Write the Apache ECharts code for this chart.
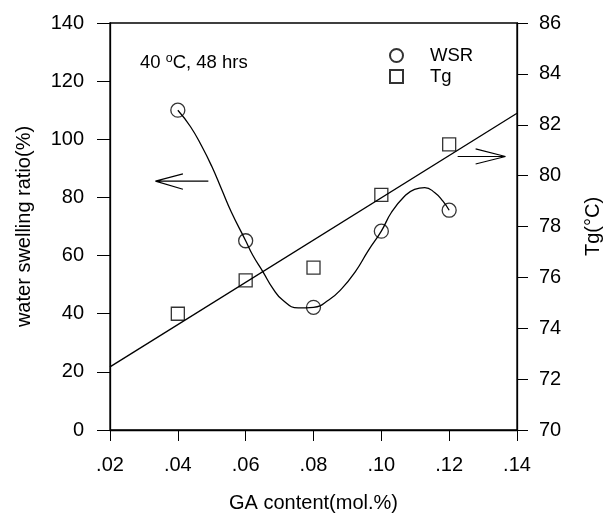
<!DOCTYPE html>
<html>
<head>
<meta charset="utf-8">
<script src="https://cdn.jsdelivr.net/npm/echarts@6/dist/echarts.min.js"></script>
<style>
  html, body { margin: 0; padding: 0; background: #fff; }
  #chart { width: 611px; height: 518px; }
</style>
</head>
<body>
<div id="chart"></div>
<script>
// values
const gaContent = [0.04, 0.06, 0.08, 0.10, 0.12];
const wsr = [110, 65.1, 42.2, 68.4, 75.6];
const tg = [74.57, 75.88, 76.38, 79.24, 81.23];
// hand-drawn smooth curve through WSR points (traced)
const wsrCurve = [
  [0.04, 110], [0.0437, 104.4], [0.0471, 97.5], [0.05, 90.7], [0.0529, 82.8],
  [0.0558, 74.9], [0.06, 65.1], [0.0621, 60.1], [0.0651, 54.4], [0.068, 48.7],
  [0.0709, 44.7], [0.0755, 42.0], [0.08, 42.2], [0.0845, 44.7],
  [0.0884, 48.7], [0.0923, 54.4], [0.0962, 61.8], [0.1, 68.4], [0.103, 74.9],
  [0.1069, 80.5], [0.1098, 82.8], [0.1128, 83.4], [0.1157, 81.7], [0.1181, 78.8],
  [0.12, 75.6]
];
// linear fit of Tg
const tgFit = [[0.02, 72.48], [0.14, 82.45]];
// arrows pointing to each axis (left-axis units)
const leftArrow = [[0.049, 85.6], [0.0334, 85.6], [0.0415, 88.1], [0.0334, 85.6], [0.0415, 82.8]];
const rightArrow = [[0.1225, 94.1], [0.1366, 94.1], [0.1278, 96.7], [0.1366, 94.1], [0.1278, 91.5]];

const FONT = '"Liberation Sans", Arial, sans-serif';
const axisFont = { color: '#000', fontSize: 20, fontFamily: FONT };
const lineStyle = { color: '#000', width: 1.3 };

const chart = echarts.init(document.getElementById('chart'), null, { renderer: 'canvas' });

chart.setOption({
  animation: false,
  backgroundColor: '#fff',
  grid: {
    left: 110, right: 91, top: 23, bottom: 85,
    show: true, borderColor: '#000', borderWidth: 1.3, backgroundColor: 'transparent'
  },
  legend: {
    orient: 'vertical',
    left: 384, top: 41,
    itemWidth: 13, itemHeight: 13, itemGap: 2,
    textStyle: { color: '#000', fontSize: 18.5, fontFamily: FONT, padding: [0, 0, 0, 22] },
    data: ['WSR', 'Tg']
  },
  graphic: [{
    type: 'text',
    left: 140, top: 52,
    style: {
      rich: {
        n: { fontSize: 18.5, fontFamily: FONT, fill: '#000', lineHeight: 22 },
        s: { fontSize: 12.5, fontFamily: FONT, fill: '#000', lineHeight: 22, verticalAlign: 'top', padding: [0, 0, 8, 0] }
      },
      text: '{n|40 }{s|o}{n|C, 48 hrs}'
    }
  }],
  xAxis: {
    type: 'value',
    min: 0.02, max: 0.14, interval: 0.02,
    name: 'GA content(mol.%)',
    nameLocation: 'middle', nameGap: 63,
    nameTextStyle: axisFont,
    axisLine: { onZero: false, lineStyle: lineStyle },
    axisTick: { length: 11, lineStyle: { color: '#000', width: 1 } },
    axisLabel: Object.assign({ margin: 25, formatter: v => v.toFixed(2).replace(/^0/, '') }, axisFont),
    splitLine: { show: false }
  },
  yAxis: [{
    type: 'value',
    min: 0, max: 140, interval: 20,
    name: 'water swelling ratio(%)',
    nameLocation: 'middle', nameRotate: 90, nameGap: 76,
    nameTextStyle: axisFont,
    axisLine: { show: true, lineStyle: lineStyle },
    axisTick: { show: true, length: 13, lineStyle: { color: '#000', width: 1 } },
    axisLabel: Object.assign({ margin: 26 }, axisFont),
    splitLine: { show: false }
  }, {
    type: 'value',
    position: 'right',
    min: 70, max: 86, interval: 2,
    name: 'Tg(°C)',
    nameLocation: 'middle', nameRotate: 90, nameGap: 66,
    nameTextStyle: axisFont,
    axisLine: { show: true, lineStyle: lineStyle },
    axisTick: { show: true, length: 11, lineStyle: { color: '#000', width: 1 } },
    axisLabel: Object.assign({ margin: 22 }, axisFont),
    splitLine: { show: false }
  }],
  series: [{
    name: 'WSR',
    type: 'scatter',
    yAxisIndex: 0,
    symbol: 'circle', symbolSize: 14,
    itemStyle: { color: 'rgba(0,0,0,0)', borderColor: '#000', borderWidth: 1.3 },
    data: gaContent.map((x, i) => [x, wsr[i]]),
    z: 5
  }, {
    name: 'WSR curve',
    type: 'line',
    yAxisIndex: 0,
    smooth: 0.5,
    showSymbol: false, symbol: 'none',
    lineStyle: lineStyle,
    data: wsrCurve
  }, {
    name: 'Tg',
    type: 'scatter',
    yAxisIndex: 1,
    symbol: 'rect', symbolSize: 13,
    itemStyle: { color: 'rgba(0,0,0,0)', borderColor: '#000', borderWidth: 1.3 },
    data: gaContent.map((x, i) => [x, tg[i]]),
    z: 5
  }, {
    name: 'Tg fit',
    type: 'line',
    yAxisIndex: 1,
    symbol: 'none',
    lineStyle: lineStyle,
    data: tgFit
  }, {
    name: 'arrow left',
    type: 'line',
    yAxisIndex: 0,
    symbol: 'none',
    lineStyle: { color: '#000', width: 1.1 },
    data: leftArrow
  }, {
    name: 'arrow right',
    type: 'line',
    yAxisIndex: 0,
    symbol: 'none',
    lineStyle: { color: '#000', width: 1.1 },
    data: rightArrow
  }]
});
</script>
</body>
</html>
